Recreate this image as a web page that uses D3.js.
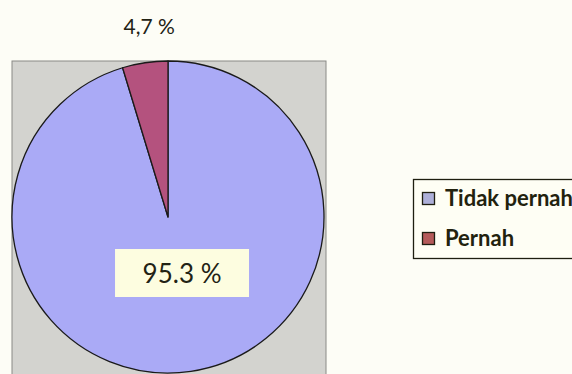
<!DOCTYPE html>
<html>
<head>
<meta charset="utf-8">
<script src="https://cdn.jsdelivr.net/npm/d3@7"></script>
<style>
  html, body { margin: 0; padding: 0; background: #fdfdf6; }
  svg { display: block; }
</style>
</head>
<body>
<svg id="chart" width="572" height="374"></svg>
<script>
// Survey answers and their shares (percent)
const categories = ["Tidak pernah", "Pernah"];
const values = [95.3, 4.7];
const decimalMarks = [".", ","];
const sliceColors = ["#aaaaf6", "#b4527e"];
const legendColors = ["#adafd8", "#b45a5a"];

const svg = d3.select("#chart");

// plot area
const plot = { x: 12, y: 61, w: 314, h: 330 };
svg.append("rect")
  .attr("x", plot.x).attr("y", plot.y)
  .attr("width", plot.w).attr("height", plot.h)
  .attr("fill", "#d3d3cf")
  .attr("stroke", "#8a8a86").attr("stroke-width", 1);

const cx = 168, cy = 217, R = 156;
const data = categories.map((c, i) => ({ name: c, value: values[i], i }));

const pie = d3.pie().sort(null).value(d => d.value).startAngle(0).endAngle(2 * Math.PI);
const arcs = pie(data);
const arc = d3.arc().innerRadius(0).outerRadius(R);

const g = svg.append("g").attr("transform", `translate(${cx},${cy})`);
g.selectAll("path.slice").data(arcs).join("path")
  .attr("class", "slice")
  .attr("d", arc)
  .attr("fill", d => sliceColors[d.data.i])
  .attr("stroke", "#1a1a1a")
  .attr("stroke-width", 1.3)
  .attr("stroke-linejoin", "round");

const fmt = (v, i) => d3.format(".1f")(v).replace(".", decimalMarks[i]) + " %";

// inside label for the large slice, on a tinted box
const inner = d3.arc().innerRadius(0).outerRadius(R * 0.7);
const big = arcs[0];
const [bx, by] = inner.centroid(big);
const bigLabel = g.append("g").attr("transform", `translate(${bx + 6},${by + 2})`);
bigLabel.append("rect")
  .attr("x", -67).attr("y", -24).attr("width", 134).attr("height", 48)
  .attr("fill", "#fdfde0");
bigLabel.append("text")
  .attr("text-anchor", "middle")
  .attr("y", 10)
  .attr("font-family", "Lato, 'Open Sans', sans-serif")
  .attr("font-size", 26)
  .attr("fill", "#222214")
  .text(fmt(big.data.value, big.data.i));

// outside label for the small slice
const outer = d3.arc().innerRadius(R + 40).outerRadius(R + 40);
const small = arcs[1];
const [sx, sy] = outer.centroid(small);
g.append("text")
  .attr("x", sx + 10).attr("y", sy + 11)
  .attr("text-anchor", "middle")
  .attr("font-family", "Lato, 'Open Sans', sans-serif")
  .attr("font-size", 21)
  .attr("fill", "#222214")
  .text(fmt(small.data.value, small.data.i));

// legend
const legend = svg.append("g");
legend.append("rect")
  .attr("x", 413.5).attr("y", 179.5).attr("width", 170).attr("height", 79)
  .attr("fill", "#fefef4").attr("stroke", "#1e1e10").attr("stroke-width", 1.3);
const items = legend.selectAll("g.item").data(data).join("g")
  .attr("class", "item")
  .attr("transform", (d, i) => `translate(422,${192 + i * 40})`);
items.append("rect")
  .attr("x", 0.5).attr("y", 0.5).attr("width", 12).attr("height", 12)
  .attr("fill", d => legendColors[d.i])
  .attr("stroke", "#1e1e10").attr("stroke-width", 1.3);
items.append("text")
  .attr("x", 23).attr("y", 14)
  .attr("font-family", "Lato, 'Open Sans', sans-serif")
  .attr("font-weight", "bold")
  .attr("font-size", 22)
  .attr("fill", "#22220e")
  .text(d => d.name);
</script>
</body>
</html>
